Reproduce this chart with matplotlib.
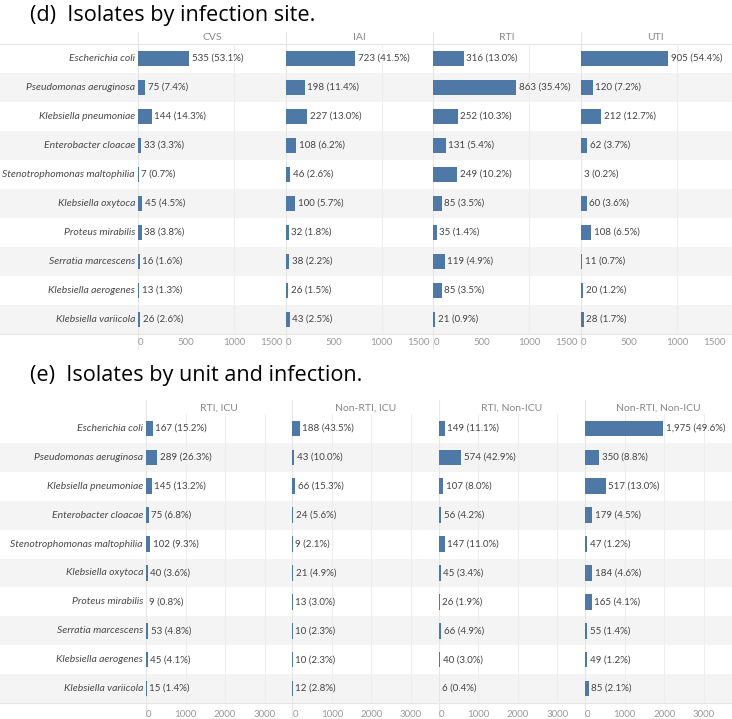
import numpy as np
import matplotlib.pyplot as plt

# species shown in both panels (top to bottom)
species = ["Escherichia coli", "Pseudomonas aeruginosa", "Klebsiella pneumoniae",
           "Enterobacter cloacae", "Stenotrophomonas maltophilia", "Klebsiella oxytoca",
           "Proteus mirabilis", "Serratia marcescens", "Klebsiella aerogenes",
           "Klebsiella variicola"]

# (d) isolates by infection site
sites = ["CVS", "IAI", "RTI", "UTI"]
cvs_n = [535, 75, 144, 33, 7, 45, 38, 16, 13, 26]
cvs_pct = [53.1, 7.4, 14.3, 3.3, 0.7, 4.5, 3.8, 1.6, 1.3, 2.6]
iai_n = [723, 198, 227, 108, 46, 100, 32, 38, 26, 43]
iai_pct = [41.5, 11.4, 13.0, 6.2, 2.6, 5.7, 1.8, 2.2, 1.5, 2.5]
rti_n = [316, 863, 252, 131, 249, 85, 35, 119, 85, 21]
rti_pct = [13.0, 35.4, 10.3, 5.4, 10.2, 3.5, 1.4, 4.9, 3.5, 0.9]
uti_n = [905, 120, 212, 62, 3, 60, 108, 11, 20, 28]
uti_pct = [54.4, 7.2, 12.7, 3.7, 0.2, 3.6, 6.5, 0.7, 1.2, 1.7]

# (e) isolates by unit and infection
units = ["RTI, ICU", "Non-RTI, ICU", "RTI, Non-ICU", "Non-RTI, Non-ICU"]
rti_icu_n = [167, 289, 145, 75, 102, 40, 9, 53, 45, 15]
rti_icu_pct = [15.2, 26.3, 13.2, 6.8, 9.3, 3.6, 0.8, 4.8, 4.1, 1.4]
nrti_icu_n = [188, 43, 66, 24, 9, 21, 13, 10, 10, 12]
nrti_icu_pct = [43.5, 10.0, 15.3, 5.6, 2.1, 4.9, 3.0, 2.3, 2.3, 2.8]
rti_nicu_n = [149, 574, 107, 56, 147, 45, 26, 66, 40, 6]
rti_nicu_pct = [11.1, 42.9, 8.0, 4.2, 11.0, 3.4, 1.9, 4.9, 3.0, 0.4]
nrti_nicu_n = [1975, 350, 517, 179, 47, 184, 165, 55, 49, 85]
nrti_nicu_pct = [49.6, 8.8, 13.0, 4.5, 1.2, 4.6, 4.1, 1.4, 1.2, 2.1]

d_ticks = [0, 500, 1000, 1500]
e_ticks = [0, 1000, 2000, 3000]

W, H = 732, 719
BLUE = "#4e79a7"
BAND = "#f4f4f4"
LINE = "#e6e6e6"
GRID = "#eeeeee"
FONT = "Lato"

fig = plt.figure(figsize=(W / 100, H / 100), dpi=100)

# background layer in pixel coordinates
bg = fig.add_axes([0, 0, 1, 1])
bg.set_xlim(0, W)
bg.set_ylim(H, 0)
bg.axis("off")


def px_axes(left, top, width, height):
    return fig.add_axes([left / W, 1 - (top + height) / H, width / W, height / H])


def draw_section(title, title_y, head_top, head_y, top, row_h, label_w, panel_w,
                 xmax, ticks, heads, counts, pcts, tick_pad, head_line, edge_right):
    n = len(species)
    bottom = top + n * row_h
    bg.text(30, title_y, title, fontsize=15.6, family="Open Sans", va="center", ha="left")
    for i in range(n):
        if i % 2 == 1:
            bg.fill_between([0, W], top + i * row_h, top + (i + 1) * row_h,
                            color=BAND, lw=0, zorder=0)
        bg.text(label_w - 3, top + (i + 0.5) * row_h, species[i], ha="right", va="center",
                fontsize=7.5, style="italic", color="#4a4a4a", family=FONT)
    if head_line:
        bg.plot([0, W], [top, top], color=LINE, lw=0.8, zorder=1)
    bg.plot([0, W], [bottom, bottom], color=LINE, lw=0.8, zorder=1)
    for k, name in enumerate(heads):
        x0 = label_w + k * panel_w
        bg.plot([x0, x0], [head_top, bottom + 14], color=LINE, lw=0.8, zorder=1)
        bg.text(x0 + panel_w / 2, head_y, name, ha="center", va="center",
                fontsize=7.5, color="#888888", family=FONT)

        ax = px_axes(x0, top, panel_w, n * row_h)
        ax.set_facecolor("none")
        y = np.arange(n)
        for g in range(1000, int(xmax), 1000):
            ax.axvline(g, color=GRID, lw=0.8, zorder=0)
        ax.barh(y, counts[k], height=0.54, color=BLUE, zorder=2)
        for i in range(n):
            ax.text(counts[k][i] + xmax * 2.5 / panel_w, i,
                    f"{counts[k][i]:,} ({pcts[k][i]:.1f}%)",
                    va="center", ha="left", fontsize=7, color="#444444", family=FONT)
        ax.set_xlim(0, xmax)
        ax.set_ylim(n - 0.5, -0.5)
        ax.set_yticks([])
        ax.set_xticks(ticks)
        ax.set_xticklabels([str(t) for t in ticks], fontsize=7, color="#9a9a9a", family=FONT)
        ax.tick_params(axis="x", length=0, pad=tick_pad)
        labs = ax.get_xticklabels()
        labs[0].set_ha("left")
        if edge_right:
            labs[-1].set_ha("right")
        for s in ax.spines.values():
            s.set_visible(False)


draw_section("(d)  Isolates by infection site.", 16, 32, 38, 44, 29, 138, 147.7, 1538,
             d_ticks, sites, [cvs_n, iai_n, rti_n, uti_n],
             [cvs_pct, iai_pct, rti_pct, uti_pct], 3, True, True)

draw_section("(e)  Isolates by unit and infection.", 376, 400, 408, 414, 28.9, 146, 146.4, 3706,
             e_ticks, units, [rti_icu_n, nrti_icu_n, rti_nicu_n, nrti_nicu_n],
             [rti_icu_pct, nrti_icu_pct, rti_nicu_pct, nrti_nicu_pct], 5, False, False)

fig.savefig("out.png", dpi=100)
